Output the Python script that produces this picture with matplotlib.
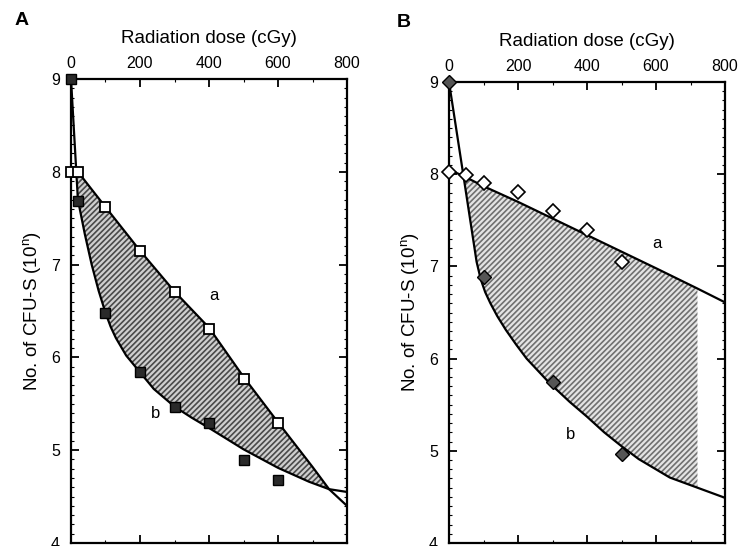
import matplotlib
matplotlib.use('Agg')
import matplotlib.pyplot as plt
from matplotlib.ticker import MultipleLocator

plt.rcParams['font.family'] = ['Liberation Sans', 'DejaVu Sans']
plt.rcParams['hatch.linewidth'] = 1.2

# panel A - measured points
a_dose_pts = [0, 20, 100, 200, 300, 400, 500, 600]
a_open = [8.0, 8.0, 7.62, 7.15, 6.71, 6.31, 5.77, 5.29]
a_dose_fill = [0, 20, 100, 200, 300, 400, 500, 600]
a_filled = [9.0, 7.69, 6.48, 5.84, 5.47, 5.29, 4.89, 4.68]

# panel A - curves
a_curve_a_x = [20, 100, 200, 300, 400, 500, 600, 700, 748, 800]
a_curve_a_y = [8.0, 7.62, 7.15, 6.71, 6.32, 5.79, 5.30, 4.82, 4.58, 4.40]
a_curve_b_x = [0, 20, 40, 60, 80, 100, 115, 130, 160, 200, 240, 300, 350, 400, 500, 600, 690, 748, 800]
a_curve_b_y = [9.0, 7.7, 7.33, 7.0, 6.72, 6.48, 6.33, 6.21, 6.02, 5.84, 5.66, 5.47, 5.35, 5.24, 5.01, 4.81, 4.66, 4.58, 4.55]

# panel B - measured points
b_dose_open = [0, 50, 100, 200, 300, 400, 500]
b_open = [8.02, 7.99, 7.91, 7.81, 7.60, 7.40, 7.05]
b_dose_fill = [0, 100, 300, 500]
b_filled = [9.0, 6.88, 5.75, 4.97]

# panel B - curves
b_curve_a_x = [0, 42, 100, 200, 300, 400, 500, 600, 720, 800]
b_curve_a_y = [8.05, 7.98, 7.87, 7.70, 7.52, 7.34, 7.16, 6.98, 6.76, 6.61]
b_curve_b_x = [0, 42, 80, 92, 105, 120, 140, 165, 195, 225, 260, 290, 350, 400, 450, 500, 550, 640, 720, 800]
b_curve_b_y = [9.0, 7.98, 7.05, 6.86, 6.72, 6.6, 6.46, 6.31, 6.15, 6.0, 5.86, 5.74, 5.53, 5.37, 5.2, 5.05, 4.91, 4.71, 4.6, 4.49]

xticks = [0, 200, 400, 600, 800]
yticks = [4, 5, 6, 7, 8, 9]


def setup_axes(ax):
    ax.set_xlim(0, 800)
    ax.set_ylim(4, 9)
    ax.xaxis.set_ticks_position('both')
    ax.xaxis.set_label_position('top')
    ax.set_xticks(xticks)
    ax.xaxis.set_minor_locator(MultipleLocator(100))
    ax.set_yticks(yticks)
    ax.yaxis.set_minor_locator(MultipleLocator(0.1))
    ax.tick_params(axis='x', which='both', direction='in', top=True, bottom=True,
                   labeltop=True, labelbottom=False, labelsize=11.5, pad=6)
    ax.tick_params(axis='y', which='both', direction='in', left=True, right=True,
                   labelsize=11.5, pad=8)
    ax.tick_params(which='major', length=6, width=1.3)
    ax.tick_params(which='minor', length=2, width=0.8)
    for s in ax.spines.values():
        s.set_linewidth(1.6)
    ax.set_xlabel('Radiation dose (cGy)', fontsize=13.5, labelpad=9)
    ax.set_ylabel(r'No. of CFU-S (10$^{\mathregular{n}}$)', fontsize=13.5, labelpad=5)


fig = plt.figure(figsize=(7.38, 5.46), dpi=100)
axA = fig.add_axes([0.0962, 0.0055, 0.374, 0.8498])
axB = fig.add_axes([0.6084, 0.0055, 0.374, 0.8443])

# ---- panel A
setup_axes(axA)
ia = a_curve_a_x.index(748)
ib = a_curve_b_x.index(748)
i20 = a_curve_b_x.index(20)
poly_x = a_curve_a_x[:ia + 1] + a_curve_b_x[i20:ib + 1][::-1]
poly_y = a_curve_a_y[:ia + 1] + a_curve_b_y[i20:ib + 1][::-1]
axA.fill(poly_x, poly_y, facecolor='#cfcfcf', edgecolor='#4a4a4a', hatch='//////', linewidth=0)
axA.plot(a_curve_a_x, a_curve_a_y, color='black', lw=1.6)
axA.plot(a_curve_b_x, a_curve_b_y, color='black', lw=1.6)
axA.plot(a_dose_pts, a_open, 's', ms=7, mfc='white', mec='black', mew=1.3, clip_on=False, zorder=5)
axA.plot(a_dose_fill, a_filled, 's', ms=7, mfc='#2a2a2a', mec='black', mew=1.0, clip_on=False, zorder=5)
axA.text(400, 6.62, 'a', fontsize=12)
axA.text(232, 5.35, 'b', fontsize=12)

# ---- panel B
setup_axes(axB)
ja1 = b_curve_a_x.index(42)
ja2 = b_curve_a_x.index(720)
jb1 = b_curve_b_x.index(42)
jb2 = b_curve_b_x.index(720)
poly_x = b_curve_a_x[ja1:ja2 + 1] + b_curve_b_x[jb1:jb2 + 1][::-1]
poly_y = b_curve_a_y[ja1:ja2 + 1] + b_curve_b_y[jb1:jb2 + 1][::-1]
axB.fill(poly_x, poly_y, facecolor='#e4e4e4', edgecolor='#707070', hatch='//////', linewidth=0)
axB.plot(b_curve_a_x, b_curve_a_y, color='black', lw=1.6)
axB.plot(b_curve_b_x, b_curve_b_y, color='black', lw=1.6)
axB.plot(b_dose_open, b_open, 'D', ms=7, mfc='white', mec='black', mew=1.2, clip_on=False, zorder=5)
axB.plot(b_dose_fill, b_filled, 'D', ms=7, mfc='#555555', mec='black', mew=1.0, clip_on=False, zorder=5)
axB.text(588, 7.2, 'a', fontsize=12)
axB.text(338, 5.13, 'b', fontsize=12)

fig.text(0.02, 0.962, 'A', fontsize=14, fontweight='bold', va='center')
fig.text(0.537, 0.958, 'B', fontsize=14, fontweight='bold', va='center')

fig.savefig('out.png', dpi=100)
